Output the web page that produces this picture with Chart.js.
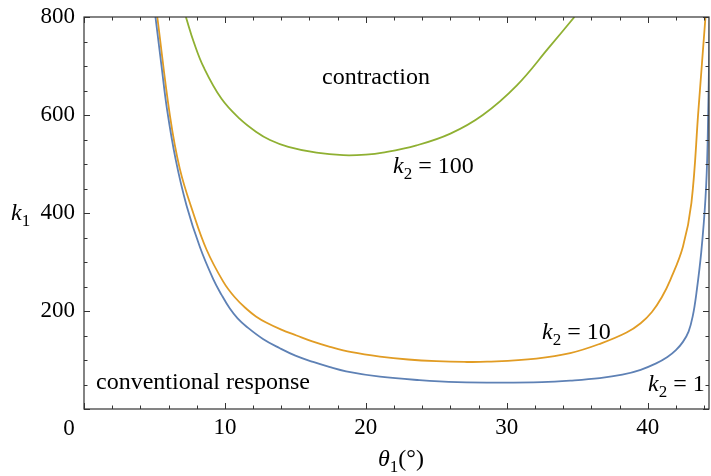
<!DOCTYPE html>
<html>
<head>
<meta charset="utf-8">
<script src="https://cdn.jsdelivr.net/npm/chart.js@4.4.1/dist/chart.umd.min.js"></script>
<style>
  body { margin: 0; background: #fff; }
  #chart { display: block; }
</style>
</head>
<body>
<canvas id="chart" width="711" height="476"></canvas>
<script>
// k2 = 1
let theta1 = [5.07, 5.5, 5.9, 6.5, 7.28, 8.23, 9.17, 9.76, 10.35, 10.9, 11.54, 12.7, 13.9, 15, 16.26, 17.4, 18.6, 21, 23.8, 26.5, 29.7, 32.5, 34.5, 36.6, 38.2, 39.5, 40.6, 41.4, 42.0, 42.5, 42.9, 43.2, 43.45, 43.8, 44.1, 44.25, 44.4]
let k1_1 = [800, 700, 610, 510, 415, 330, 265, 233, 205, 185, 168, 143, 124, 109, 96, 86, 77, 66, 59, 55, 54, 55, 58, 63, 70, 80, 93, 106, 120, 137, 158, 190, 235, 320, 430, 540, 800]

// k2 = 10
let theta10 = [5.2, 6.1, 6.8, 7.75, 8.7, 9.88, 10.7, 11.54, 12.2, 12.96, 14, 15.08, 16.2, 17.45, 19, 21, 23, 25, 27, 28.6, 32.1, 34.5, 36.7, 38.5, 39.5, 40.3, 41.0, 41.6, 42.5, 43.1, 43.6, 44.1]
let k1_10 = [800, 598, 490, 400, 325, 260, 228, 204, 189, 176, 162, 150, 138, 127, 116, 107, 101, 97.5, 96, 96.5, 103, 114, 134, 156, 175, 198, 228, 263, 331, 420, 610, 800]

// k2 = 100
let theta100 = [7.23, 7.8, 8.5, 9.76, 11.06, 12.2, 13.2, 14.5, 16.5, 18.4, 20, 21.2, 23.6, 26, 28.3, 30.7, 33, 34.8]
let k1_100 = [800, 748, 697, 633, 592, 566, 549, 535, 523, 518, 519, 523, 538, 562, 600, 660, 738, 800]

let xTicks = [0, 10, 20, 30, 40]
let yTicks = [200, 400, 600, 800]

let serif = "'Liberation Serif', 'DejaVu Serif', serif"

function pts(xs, ys){
  return xs.map((x, i) => ({x: x, y: ys[i]}))
}

function line(data, color){
  return {
    data: data,
    showLine: true,
    borderColor: color,
    borderWidth: 1.8,
    pointRadius: 0,
    tension: 0.4,
    fill: false
  }
}

// draws k with subscript, e.g. "k₂ = 10"
function subText(ctx, x, y, main, sub, rest, size){
  ctx.textAlign = "left"
  ctx.textBaseline = "alphabetic"
  ctx.font = "italic " + size + "px " + serif
  ctx.fillText(main, x, y)
  x += ctx.measureText(main).width
  ctx.font = Math.round(size * 0.7) + "px " + serif
  ctx.fillText(sub, x, y + 6)
  x += ctx.measureText(sub).width
  if(rest){
    ctx.font = size + "px " + serif
    ctx.fillText(rest, x, y)
  }
}

let frame = {
  id: "frame",
  afterDraw(chart){
    let ctx = chart.ctx
    let a = chart.chartArea
    let xs = chart.scales.x
    let ys = chart.scales.y
    ctx.save()
    ctx.strokeStyle = "#333"
    ctx.lineWidth = 1.2
    ctx.strokeRect(a.left, a.top, a.right - a.left, a.bottom - a.top)

    ctx.lineWidth = 1
    ctx.beginPath()
    for(let v = 0; v <= 44; v += 2){
      let px = Math.round(xs.getPixelForValue(v)) + 0.5
      let len = v % 10 === 0 ? 6 : 3.5
      ctx.moveTo(px, a.bottom); ctx.lineTo(px, a.bottom - len)
      ctx.moveTo(px, a.top); ctx.lineTo(px, a.top + len)
    }
    for(let v = 0; v <= 800; v += 50){
      let py = Math.round(ys.getPixelForValue(v)) + 0.5
      let len = v % 200 === 0 ? 6 : 3.5
      ctx.moveTo(a.left, py); ctx.lineTo(a.left + len, py)
      ctx.moveTo(a.right, py); ctx.lineTo(a.right - len, py)
    }
    ctx.stroke()

    ctx.fillStyle = "#000"
    ctx.font = "23px " + serif
    ctx.textAlign = "center"
    ctx.textBaseline = "middle"
    ctx.fillText("0", xs.getPixelForValue(0) - 15, 429)

    ctx.font = "24px " + serif
    ctx.textAlign = "left"
    ctx.textBaseline = "alphabetic"
    ctx.fillText("contraction", 322, 84)
    ctx.fillText("conventional response", 96, 389)

    subText(ctx, 393, 173, "k", "2", " = 100", 24)
    subText(ctx, 542, 339, "k", "2", " = 10", 24)
    subText(ctx, 648, 391, "k", "2", " = 1", 24)

    subText(ctx, 11, 220, "k", "1", "", 24)

    // x title
    ctx.font = "italic 24px " + serif
    ctx.fillText("\u03b8", 378, 466)
    let w = ctx.measureText("\u03b8").width
    ctx.font = "17px " + serif
    ctx.fillText("1", 378 + w, 472)
    let w2 = ctx.measureText("1").width
    ctx.font = "24px " + serif
    ctx.fillText("(\u00b0)", 378 + w + w2, 466)
    ctx.restore()
  }
}

new Chart(document.getElementById("chart"), {
  type: "scatter",
  data: {
    datasets: [
      line(pts(theta1, k1_1), "#5E81B5"),
      line(pts(theta10, k1_10), "#E19C24"),
      line(pts(theta100, k1_100), "#8FB032")
    ]
  },
  options: {
    responsive: false,
    animation: false,
    devicePixelRatio: 1,
    layout: { padding: { top: 17, right: 2, left: 0, bottom: 0 } },
    plugins: { legend: { display: false }, tooltip: { enabled: false } },
    scales: {
      x: {
        type: "linear",
        min: 0,
        max: 44.35,
        afterBuildTicks: s => { s.ticks = xTicks.map(v => ({value: v})) },
        afterFit: s => { s.height = 67; s.paddingLeft = 0; s.paddingRight = 0 },
        grid: { display: false, drawTicks: false, tickLength: 0 },
        border: { display: false },
        ticks: {
          padding: 5,
          maxRotation: 0,
          autoSkip: false,
          color: "#000",
          font: { family: serif, size: 23 },
          callback: v => v === 0 ? "" : v
        }
      },
      y: {
        min: 0,
        max: 800,
        afterBuildTicks: s => { s.ticks = yTicks.map(v => ({value: v})) },
        afterFit: s => { s.width = 84; s.paddingTop = 0; s.paddingBottom = 0 },
        grid: { display: false, drawTicks: false, tickLength: 0 },
        border: { display: false },
        ticks: {
          padding: 9,
          color: "#000",
          font: { family: serif, size: 23 }
        }
      }
    }
  },
  plugins: [frame]
})
</script>
</body>
</html>
